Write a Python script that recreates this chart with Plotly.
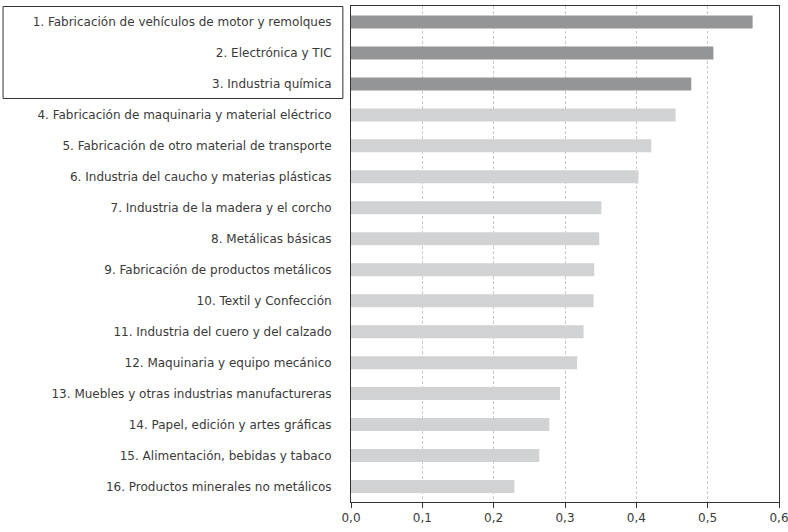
import plotly.graph_objects as go

categories = [
    "1. Fabricación de vehículos de motor y remolques",
    "2. Electrónica y TIC",
    "3. Industria química",
    "4. Fabricación de maquinaria y material eléctrico",
    "5. Fabricación de otro material de transporte",
    "6. Industria del caucho y materias plásticas",
    "7. Industria de la madera y el corcho",
    "8. Metálicas básicas",
    "9. Fabricación de productos metálicos",
    "10. Textil y Confección",
    "11. Industria del cuero y del calzado",
    "12. Maquinaria y equipo mecánico",
    "13. Muebles y otras industrias manufactureras",
    "14. Papel, edición y artes gráficas",
    "15. Alimentación, bebidas y tabaco",
    "16. Productos minerales no metálicos",
]
values = [0.563, 0.508, 0.477, 0.455, 0.421, 0.403, 0.351, 0.348,
          0.341, 0.340, 0.326, 0.317, 0.293, 0.278, 0.264, 0.229]
highlight_count = 3
x_ticks = [0.0, 0.1, 0.2, 0.3, 0.4, 0.5, 0.6]

DARK = "#949596"
LIGHT = "#d1d2d4"
colors = [DARK if i < highlight_count else LIGHT for i in range(len(categories))]

fig = go.Figure(go.Bar(
    x=values, y=categories, orientation="h",
    marker=dict(color=colors, line=dict(width=0)),
    width=0.42,
))

FONT = "DejaVu Sans"
fig.update_layout(
    width=788, height=532,
    margin=dict(l=351, r=9, t=6, b=30, autoexpand=False),
    paper_bgcolor="white", plot_bgcolor="white",
    separators=", ",
    showlegend=False,
    font=dict(family=FONT, size=12, color="#3a3a3a"),
    xaxis=dict(
        range=[0, 0.6], tickvals=x_ticks, tickformat=".1f",
        showgrid=True, gridcolor="#c8c8c8", griddash="3px,2px", gridwidth=1,
        showline=True, linecolor="#333", linewidth=1, mirror=True,
        ticks="outside", ticklen=5, tickcolor="#333",
        ticklabeloverflow="allow", automargin=False,
        zeroline=False, fixedrange=True,
    ),
    yaxis=dict(
        categoryorder="array", categoryarray=categories[::-1],
        showline=True, linecolor="#333", linewidth=1, mirror=True,
        showgrid=False, ticks="outside", ticklen=16, tickcolor="rgba(0,0,0,0)",
        automargin=False, fixedrange=True,
    ),
)

# box around the highlighted labels
fig.add_shape(
    type="rect", xref="paper", yref="y",
    x0=-0.813, x1=-0.019,
    y0=len(categories) - highlight_count - 0.47, y1=len(categories) - 0.5,
    line=dict(color="#333", width=1), fillcolor="rgba(0,0,0,0)",
    layer="above",
)

fig.write_html("out.html", config={"displayModeBar": False},
               post_script="document.body.style.margin='0';")
